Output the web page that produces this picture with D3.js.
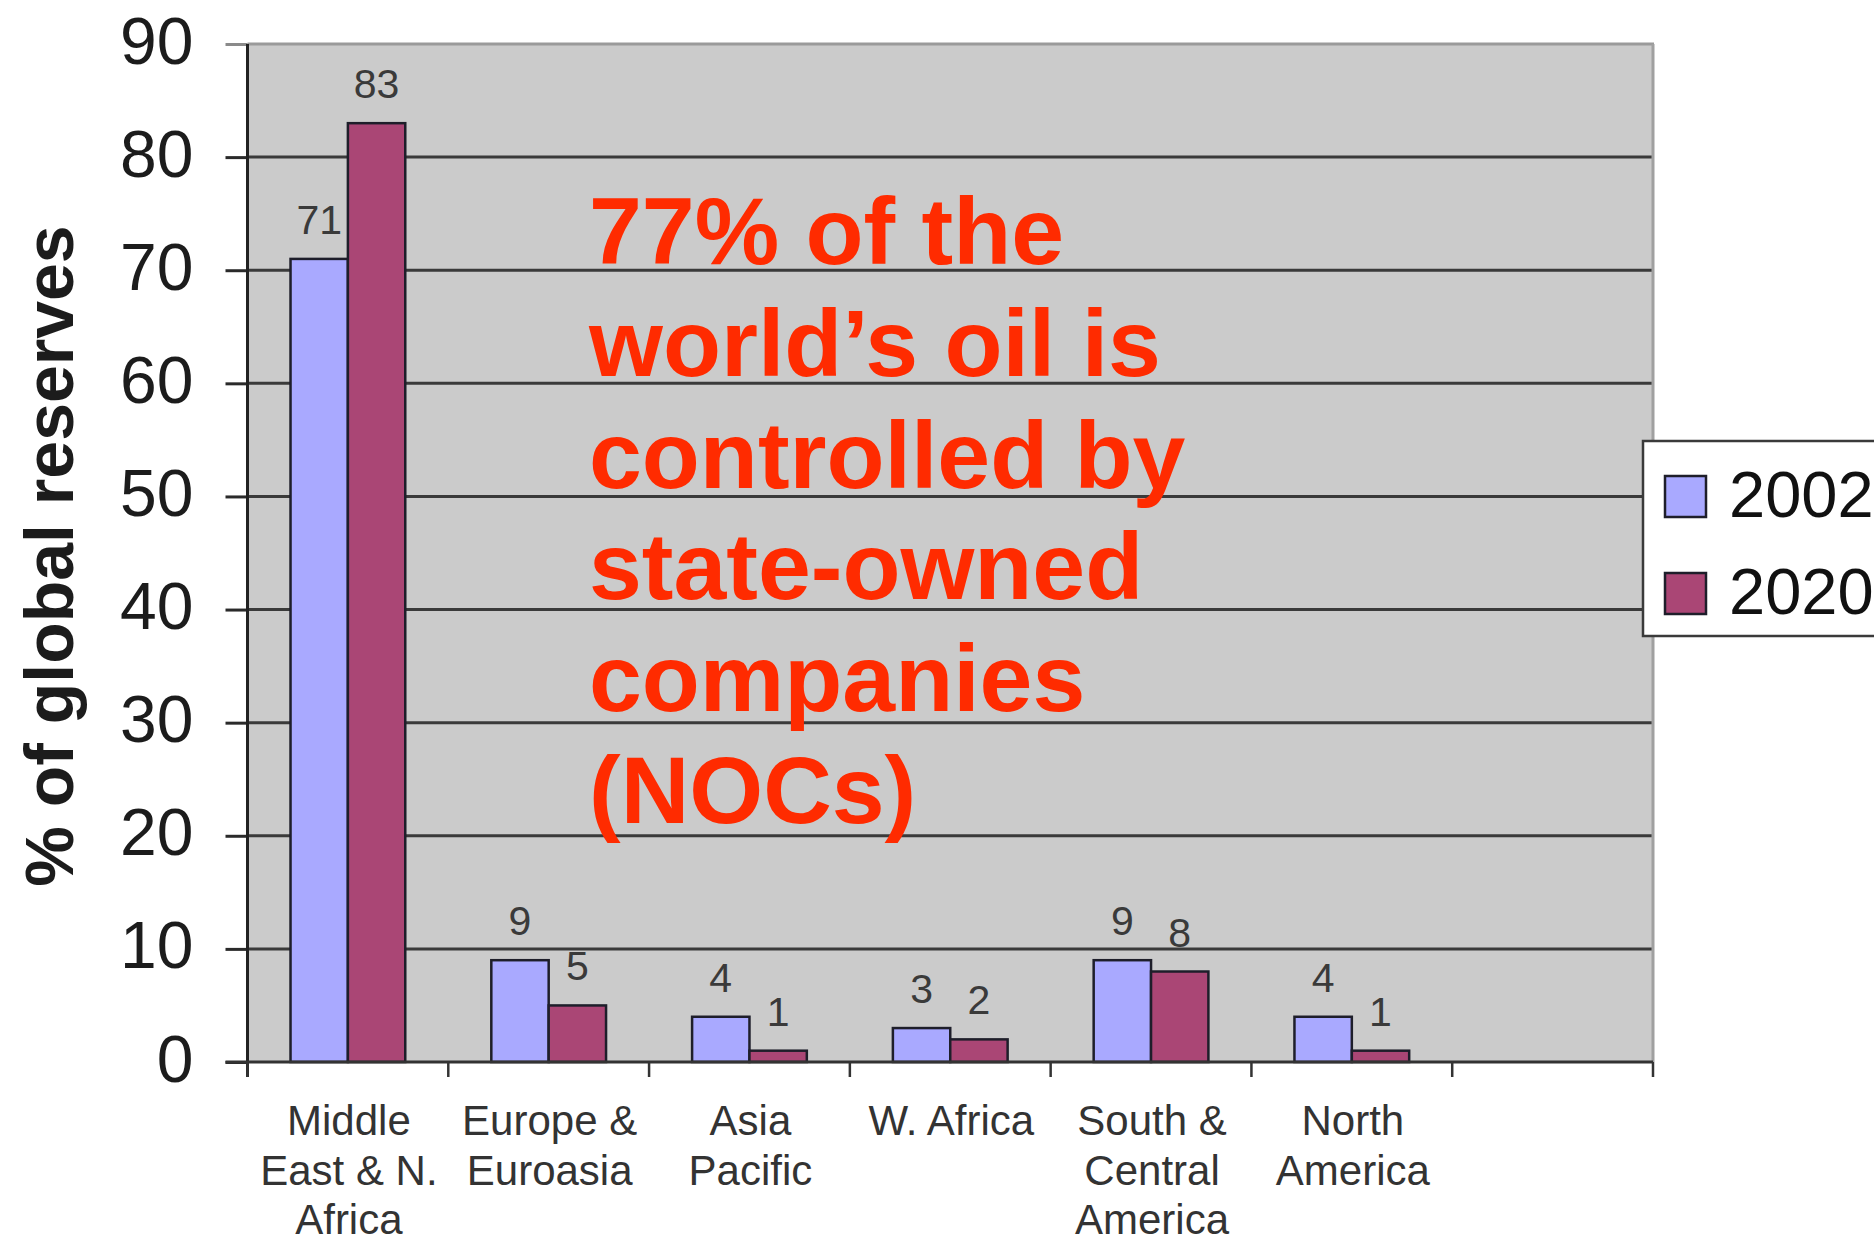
<!DOCTYPE html>
<html>
<head>
<meta charset="utf-8">
<script src="https://cdn.jsdelivr.net/npm/d3@7"></script>
<style>
  html, body { margin: 0; padding: 0; background: #fff; }
  svg { display: block; }
  text { font-family: "Liberation Sans", Arial, sans-serif; }
</style>
</head>
<body>
<svg id="chart" width="1874" height="1244"></svg>
<script>
// Regions (line breaks mark wrapped labels); the last slot is an empty category
const categories = [
  "Middle\nEast & N.\nAfrica",
  "Europe &\nEuroasia",
  "Asia\nPacific",
  "W. Africa",
  "South &\nCentral\nAmerica",
  "North\nAmerica",
  ""
];
const seriesNames = ["2002", "2020"];
const values2002 = [71, 9, 4, 3, 9, 4, null];
const values2020 = [83, 5, 1, 2, 8, 1, null];
const yTicks = [0, 10, 20, 30, 40, 50, 60, 70, 80, 90];
const yTitle = "% of global reserves";
const noteLines = [
  "77% of the",
  "world\u2019s oil is",
  "controlled by",
  "state-owned",
  "companies",
  "(NOCs)"
];

const colors = { "2002": "#a9a9ff", "2020": "#aa4675" };

const svg = d3.select("#chart");
const plot = { left: 247.5, right: 1653, top: 44, bottom: 1062 };

const x = d3.scaleBand().domain(categories).range([plot.left, plot.right]).padding(0);
const xSub = d3.scaleBand().domain(seriesNames).range([0, x.bandwidth()])
  .paddingInner(0).paddingOuter(0.75);
const y = d3.scaleLinear().domain([0, 90]).range([plot.bottom, plot.top]);

const rows = categories.map((c, i) => ({
  cat: c,
  vals: [
    { s: "2002", v: values2002[i] },
    { s: "2020", v: values2020[i] }
  ].filter(d => d.v != null)
}));

// plot background
svg.append("rect")
  .attr("x", plot.left).attr("y", plot.top)
  .attr("width", plot.right - plot.left).attr("height", plot.bottom - plot.top)
  .attr("fill", "#cbcbcb");

// value labels (placed under the gridlines)
const labels = svg.append("g").attr("font-size", 41).attr("fill", "#3a3a3a")
  .attr("text-anchor", "middle");
rows.forEach(r => {
  r.vals.forEach(d => {
    labels.append("text")
      .attr("x", x(r.cat) + xSub(d.s) + xSub.bandwidth() / 2)
      .attr("y", y(d.v) - 25)
      .text(d.v);
  });
});

// horizontal gridlines
svg.append("g").selectAll("line")
  .data(yTicks.filter(t => t > 0 && t < 90))
  .join("line")
  .attr("x1", plot.left).attr("x2", plot.right)
  .attr("y1", d => y(d)).attr("y2", d => y(d))
  .attr("stroke", "#3a3a3a").attr("stroke-width", 3);

// top and right plot border
svg.append("line")
  .attr("x1", plot.left).attr("x2", plot.right + 1)
  .attr("y1", plot.top).attr("y2", plot.top)
  .attr("stroke", "#9a9a9a").attr("stroke-width", 3);
svg.append("line")
  .attr("x1", plot.right).attr("x2", plot.right)
  .attr("y1", plot.top).attr("y2", plot.bottom)
  .attr("stroke", "#a0a0a0").attr("stroke-width", 3);

// bars
const groups = svg.append("g").selectAll("g")
  .data(rows).join("g")
  .attr("transform", d => `translate(${x(d.cat)},0)`);
groups.selectAll("rect")
  .data(d => d.vals).join("rect")
  .attr("x", d => xSub(d.s))
  .attr("y", d => y(d.v))
  .attr("width", xSub.bandwidth())
  .attr("height", d => y(0) - y(d.v))
  .attr("fill", d => colors[d.s])
  .attr("stroke", "#1e1e2a").attr("stroke-width", 2.5);

// y axis
const yAxis = svg.append("g")
  .attr("transform", `translate(${plot.left},0)`)
  .call(d3.axisLeft(y).tickValues(yTicks).tickSize(22).tickPadding(0).tickFormat(d3.format("d")));
yAxis.select(".domain").remove();
yAxis.selectAll(".tick line")
  .attr("stroke", d => d === 90 ? "#8a8a8a" : "#2a2a2a")
  .attr("stroke-width", 3);
yAxis.selectAll(".tick text")
  .attr("x", -54).attr("dy", 19)
  .attr("font-size", 66).attr("fill", "#1c1c1c")
  .attr("font-family", "\"Liberation Sans\", Arial, sans-serif");
svg.append("line")
  .attr("x1", plot.left).attr("x2", plot.left)
  .attr("y1", plot.top).attr("y2", plot.bottom + 15)
  .attr("stroke", "#222").attr("stroke-width", 3);

// x axis baseline and ticks
svg.append("line")
  .attr("x1", plot.left - 22).attr("x2", plot.right)
  .attr("y1", plot.bottom).attr("y2", plot.bottom)
  .attr("stroke", "#333").attr("stroke-width", 3);
const xAxis = svg.append("g")
  .attr("transform", `translate(0,${plot.bottom})`);
xAxis.selectAll("line")
  .data(categories.map(c => x(c)).concat([plot.right]))
  .join("line")
  .attr("x1", d => d).attr("x2", d => d)
  .attr("y1", 0).attr("y2", 15)
  .attr("stroke", "#333").attr("stroke-width", 2.5);

// category labels
const catLabels = svg.append("g").attr("font-size", 42).attr("fill", "#333")
  .attr("text-anchor", "middle");
categories.forEach(c => {
  const t = catLabels.append("text")
    .attr("x", x(c) + x.bandwidth() / 2 + 1)
    .attr("y", 1135);
  c.split("\n").forEach((line, i) => {
    t.append("tspan")
      .attr("x", x(c) + x.bandwidth() / 2 + 1)
      .attr("dy", i === 0 ? 0 : 49.5)
      .text(line);
  });
});

// y axis title
svg.append("text")
  .attr("transform", "translate(73,556) rotate(-90)")
  .attr("text-anchor", "middle")
  .attr("font-size", 68).attr("font-weight", "bold").attr("fill", "#1c1c1c")
  .text(yTitle);

// annotation
const note = svg.append("text")
  .attr("x", 589).attr("y", 264)
  .attr("font-size", 95).attr("font-weight", "bold").attr("fill", "#ff2b00");
noteLines.forEach((line, i) => {
  note.append("tspan").attr("x", 589).attr("dy", i === 0 ? 0 : 111.8).text(line);
});

// legend
const legend = svg.append("g");
legend.append("rect")
  .attr("x", 1643).attr("y", 441).attr("width", 280).attr("height", 195)
  .attr("fill", "#fff").attr("stroke", "#3a3a3a").attr("stroke-width", 2.5);
seriesNames.forEach((s, i) => {
  legend.append("rect")
    .attr("x", 1665).attr("y", 476 + i * 97).attr("width", 41).attr("height", 41)
    .attr("fill", colors[s]).attr("stroke", "#1e1e2a").attr("stroke-width", 2.5);
  legend.append("text")
    .attr("x", 1729).attr("y", 517 + i * 97)
    .attr("font-size", 65).attr("fill", "#111")
    .text(s);
});
</script>
</body>
</html>
